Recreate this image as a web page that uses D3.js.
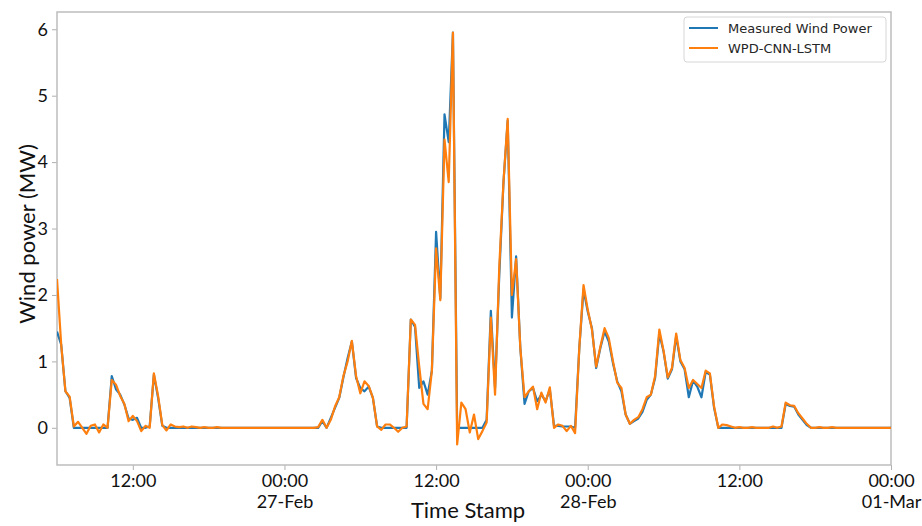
<!DOCTYPE html>
<html>
<head>
<meta charset="utf-8">
<script src="https://cdn.jsdelivr.net/npm/d3@7"></script>
<style>
  body { margin: 0; background: #fff; }
  .tick text { font-family: Lato, "Open Sans", sans-serif; font-size: 18px; fill: #111; }
  .legend text { font-family: "DejaVu Sans", sans-serif; font-size: 13px; fill: #262626; }
</style>
</head>
<body>
<svg id="chart" width="922" height="526"></svg>
<script>
// samples every 20 minutes starting 26-Feb 06:00
var startTime = "2019-02-26T06:00:00Z",
    endTime = "2019-03-01T00:00:00Z",
    stepMinutes = 20;

var seriesNames = ["Measured Wind Power", "WPD-CNN-LSTM"];

var measured = [
  1.45, 1.25, 0.55, 0.45, 0, 0, 0, 0, 0, 0,
  0, 0, 0, 0.78, 0.58, 0.5, 0.35, 0.14, 0.12, 0.15,
  0, 0, 0.02, 0.8, 0.45, 0.03, 0, 0, 0, 0,
  0, 0, 0, 0, 0, 0, 0, 0, 0, 0,
  0, 0, 0, 0, 0, 0, 0, 0, 0, 0,
  0, 0, 0, 0, 0, 0, 0, 0, 0, 0,
  0, 0, 0, 0.1, 0, 0.15, 0.3, 0.45, 0.76, 1.05,
  1.3, 0.75, 0.6, 0.55, 0.62, 0.45, 0.02, 0, 0, 0,
  0, 0, 0, 0, 1.63, 1.52, 0.6, 0.7, 0.5, 0.86,
  2.95, 1.95, 4.72, 4.3, 5.95, 0, 0, 0, 0, 0,
  0, 0, 0.12, 1.76, 0.6, 2.3, 3.7, 4.62, 1.66, 2.58,
  1.2, 0.36, 0.55, 0.6, 0.4, 0.5, 0.4, 0.58, 0.03, 0.03,
  0.02, 0.02, 0.02, 0, 1.2, 2.08, 1.75, 1.5, 0.9, 1.2,
  1.45, 1.3, 0.97, 0.7, 0.55, 0.2, 0.06, 0.1, 0.14, 0.24,
  0.42, 0.5, 0.75, 1.42, 1.15, 0.74, 0.88, 1.38, 1.0, 0.88,
  0.46, 0.71, 0.62, 0.46, 0.84, 0.8, 0.3, 0, 0, 0,
  0, 0, 0, 0, 0, 0, 0, 0, 0, 0,
  0, 0, 0, 0.36, 0.33, 0.32, 0.2, 0.12, 0.04, 0,
  0, 0, 0, 0, 0, 0, 0, 0, 0, 0,
  0, 0, 0, 0, 0, 0, 0, 0, 0
];

var predicted = [
  2.24, 1.25, 0.55, 0.47, 0.02, 0.09, 0, -0.09, 0.03, 0.05,
  -0.07, 0.05, 0, 0.72, 0.65, 0.48, 0.36, 0.1, 0.18, 0.1,
  -0.05, 0.03, 0, 0.82, 0.48, 0.04, -0.04, 0.05, 0.02, 0.01,
  0.02, 0, 0.02, 0.01, 0, 0.01, 0, 0, 0.01, 0,
  0, 0, 0, 0, 0, 0, 0, 0, 0, 0,
  0, 0, 0, 0, 0, 0, 0, 0, 0, 0,
  0, 0, 0.01, 0.12, 0, 0.12, 0.32, 0.46, 0.78, 1.0,
  1.31, 0.78, 0.52, 0.7, 0.63, 0.45, 0.02, -0.03, 0.05, 0.05,
  0, -0.06, 0, 0.02, 1.63, 1.55, 0.92, 0.36, 0.28, 0.86,
  2.7, 1.92, 4.34, 3.7, 5.95, -0.25, 0.38, 0.28, -0.07, 0.2,
  -0.17, -0.05, 0.08, 1.66, 0.5, 2.42, 3.7, 4.65, 2.0, 2.54,
  1.2, 0.46, 0.55, 0.62, 0.28, 0.53, 0.38, 0.61, 0, 0.05,
  0.03, -0.05, 0.03, -0.08, 1.2, 2.15, 1.78, 1.48, 0.92, 1.22,
  1.5, 1.35, 1.0, 0.68, 0.6, 0.2, 0.06, 0.12, 0.16, 0.28,
  0.46, 0.5, 0.78, 1.48, 1.16, 0.76, 0.9, 1.42, 1.02, 0.9,
  0.6, 0.72, 0.66, 0.6, 0.86, 0.82, 0.32, 0, 0.05, 0.04,
  0.02, 0, 0.01, 0, 0, 0.01, 0, 0, 0, 0,
  0.02, 0, 0.02, 0.38, 0.34, 0.33, 0.22, 0.14, 0.06, 0,
  0, 0.01, 0, 0, 0.01, 0, 0, 0, 0, 0,
  0, 0, 0, 0, 0, 0, 0, 0, 0
];

var yTicks = [0, 1, 2, 3, 4, 5, 6];

var svg = d3.select("#chart"),
    margin = {top: 12, right: 31, bottom: 61, left: 57},
    width = +svg.attr("width") - margin.left - margin.right,
    height = +svg.attr("height") - margin.top - margin.bottom;

var t0 = new Date(startTime);
function timeAt(i) { return new Date(t0.getTime() + i * stepMinutes * 60000); }

var x = d3.scaleUtc()
    .domain([t0, new Date(endTime)])
    .range([0, width]);

var y = d3.scaleLinear()
    .domain([-0.56, 6.26])
    .range([height, 0]);

var g = svg.append("g")
    .attr("transform", "translate(" + margin.left + "," + margin.top + ")");

// x axis, two-line labels at midnight
var xAxis = g.append("g")
    .attr("transform", "translate(0," + height + ")")
    .call(d3.axisBottom(x)
      .ticks(d3.utcHour.every(12))
      .tickSize(5)
      .tickPadding(4)
      .tickFormat(d3.utcFormat("%H:%M")));

xAxis.selectAll(".tick text")
    .each(function(d) {
      if (d.getUTCHours() === 0) {
        d3.select(this).append("tspan")
          .attr("x", 0)
          .attr("dy", "1.2em")
          .text(d3.utcFormat("%d-%b")(d));
      }
    });

var yAxis = g.append("g")
    .call(d3.axisLeft(y)
      .tickValues(yTicks)
      .tickSize(5)
      .tickPadding(4)
      .tickFormat(d3.format("d")));

svg.selectAll(".domain").remove();
svg.selectAll(".tick line").attr("stroke", "#b0b0b0");

// frame
g.append("rect")
    .attr("width", width)
    .attr("height", height)
    .attr("fill", "none")
    .attr("stroke", "#bdbdbd")
    .attr("stroke-width", 1.5);

var line = d3.line()
    .x(function(d, i) { return x(timeAt(i)); })
    .y(function(d) { return y(d); });

var colors = ["#1f77b4", "#ff7f0e"];

g.append("clipPath").attr("id", "plot-clip")
  .append("rect").attr("width", width).attr("height", height);

g.selectAll(".series")
  .data([measured, predicted])
  .enter().append("path")
    .attr("class", "series")
    .attr("clip-path", "url(#plot-clip)")
    .attr("fill", "none")
    .attr("stroke", function(d, i) { return colors[i]; })
    .attr("stroke-width", 2.2)
    .attr("stroke-linejoin", "round")
    .attr("d", line);

// axis titles
svg.append("text")
    .attr("x", 468)
    .attr("y", 518)
    .attr("text-anchor", "middle")
    .style("font-family", "Lato, 'Open Sans', sans-serif")
    .style("font-size", "22px")
    .attr("fill", "#111")
    .text("Time Stamp");

svg.append("text")
    .attr("transform", "translate(35,234) rotate(-90)")
    .attr("text-anchor", "middle")
    .style("font-family", "Lato, 'Open Sans', sans-serif")
    .style("font-size", "22px")
    .attr("fill", "#111")
    .text("Wind power (MW)");

// legend
var legend = g.append("g")
    .attr("class", "legend")
    .attr("transform", "translate(" + (width - 207) + ",5)");

legend.append("rect")
    .attr("width", 202)
    .attr("height", 45)
    .attr("rx", 3)
    .attr("fill", "#fff")
    .attr("fill-opacity", 0.8)
    .attr("stroke", "#d6d6d6");

var item = legend.selectAll(".item")
  .data(seriesNames)
  .enter().append("g")
    .attr("transform", function(d, i) { return "translate(0," + (11 + i * 20) + ")"; });

item.append("line")
    .attr("x1", 5).attr("x2", 34)
    .attr("stroke", function(d, i) { return colors[i]; })
    .attr("stroke-width", 2);

item.append("text")
    .attr("x", 44)
    .attr("dy", "0.35em")
    .text(function(d) { return d; });
</script>
</body>
</html>
